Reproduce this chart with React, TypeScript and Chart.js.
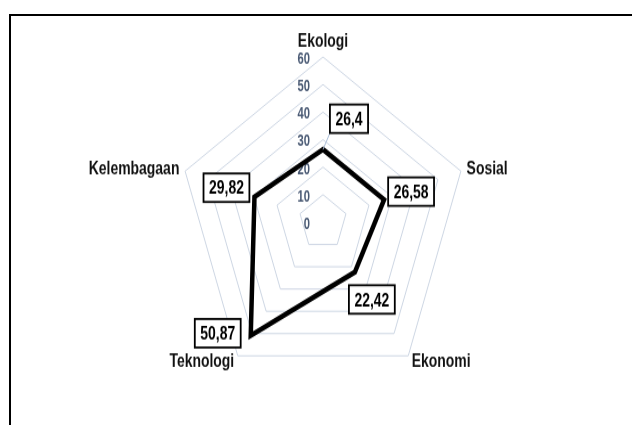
import React, { useEffect, useRef } from "react";
import { Chart, registerables } from "chart.js";

Chart.register(...registerables);

const categories = ["Ekologi", "Sosial", "Ekonomi", "Teknologi", "Kelembagaan"];
const values = [26.4, 26.58, 22.42, 50.87, 29.82];
const tickValues = [0, 10, 20, 30, 40, 50, 60];
const tickLabels = ["0", "10", "20", "30", "40", "50", "60"];

// styling: data label box offsets (px, unstretched) and leader-line flags
const labelOffsets = [
  [26, -27],
  [27, -7],
  [17, 24],
  [-33, -2],
  [-28, -8],
];
const leaderLines = [true, false, false, false, false];

const STRETCH = 425 / 373;
const FONT = "'Liberation Sans', Arial, sans-serif";
const NARROW_X = 0.82;

function narrowText(ctx: any, text: string, x: number, y: number, align: string, sx: number) {
  ctx.save();
  ctx.translate(x, y);
  ctx.scale(sx, 1);
  ctx.textAlign = align;
  ctx.fillText(text, 0, 0);
  ctx.restore();
}

const customPlugin = {
  id: "customLabels",
  beforeDatasetsDraw(chart: any) {
    const scale = chart.scales.r;
    const ctx = chart.ctx;
    ctx.save();
    // tick labels
    ctx.font = `bold 14px ${FONT}`;
    ctx.fillStyle = "#4a5a74";
    ctx.textBaseline = "middle";
    tickValues.forEach((v, i) => {
      const y = scale.yCenter - scale.getDistanceFromCenterForValue(v) + 2;
      narrowText(ctx, tickLabels[i], scale.xCenter - 13, y, "right", 0.8);
    });
    // category labels
    ctx.font = `bold 17px ${FONT}`;
    ctx.fillStyle = "#111111";
    categories.forEach((c, i) => {
      const p = scale.getPointPosition(i, scale.drawingArea + 6);
      const ang = Math.round((i * 360) / categories.length);
      let y = p.y;
      let align = "center";
      if (ang === 0 || ang === 360) {
        y -= 8;
      } else if (ang === 180) {
        y += 8;
      } else if (ang < 180) {
        align = "left";
      } else {
        align = "right";
      }
      narrowText(ctx, c, p.x, y, align, NARROW_X);
    });
    ctx.restore();
  },
  afterDatasetsDraw(chart: any) {
    const scale = chart.scales.r;
    const ctx = chart.ctx;
    ctx.save();
    ctx.font = `bold 17px ${FONT}`;
    ctx.textBaseline = "middle";
    values.forEach((v, i) => {
      const p = scale.getPointPositionForValue(i, v);
      const text = String(v).replace(".", ",");
      const w = ctx.measureText(text).width * NARROW_X + 11;
      const h = 25;
      const cx = p.x + labelOffsets[i][0];
      const cy = p.y + labelOffsets[i][1];
      const left = cx - w / 2;
      const top = cy - h / 2;
      if (leaderLines[i]) {
        const nx = Math.max(left, Math.min(p.x, left + w));
        const ny = Math.max(top, Math.min(p.y, top + h));
        ctx.beginPath();
        ctx.strokeStyle = "#a9bcd6";
        ctx.lineWidth = 1;
        ctx.moveTo(p.x, p.y);
        ctx.lineTo(nx, ny);
        ctx.stroke();
      }
      ctx.fillStyle = "#ffffff";
      ctx.fillRect(left, top, w, h);
      ctx.strokeStyle = "#000000";
      ctx.lineWidth = 1.8;
      ctx.strokeRect(left, top, w, h);
      ctx.fillStyle = "#000000";
      narrowText(ctx, text, cx, cy + 1, "center", NARROW_X);
    });
    ctx.restore();
  },
};

export default function App() {
  const canvasRef = useRef<HTMLCanvasElement | null>(null);

  useEffect(() => {
    if (!canvasRef.current) return;
    const chart = new Chart(canvasRef.current, {
      type: "radar",
      data: {
        labels: categories,
        datasets: [
          {
            data: values,
            borderColor: "#000000",
            borderWidth: 4.5,
            backgroundColor: "rgba(0,0,0,0)",
            fill: false,
            pointRadius: 0,
            pointHoverRadius: 0,
            borderJoinStyle: "miter",
          },
        ],
      },
      options: {
        animation: false,
        responsive: true,
        maintainAspectRatio: false,
        layout: { padding: { left: 14, right: 0, top: 50, bottom: 33 } },
        plugins: {
          legend: { display: false },
          tooltip: { enabled: false },
        },
        scales: {
          r: {
            min: 0,
            max: 60,
            ticks: { stepSize: 10, display: false },
            grid: { color: "#cdd6e3", lineWidth: 1 },
            angleLines: { display: false },
            pointLabels: { display: false },
          },
        },
      },
      plugins: [customPlugin],
    });
    return () => chart.destroy();
  }, []);

  return (
    <>
      <div
        style={{
          position: "fixed",
          left: 0,
          top: 0,
          width: 632,
          height: 373,
          transform: `scaleY(${STRETCH})`,
          transformOrigin: "0 0",
        }}
      >
        <canvas ref={canvasRef} />
      </div>
      <div
        style={{
          position: "fixed",
          left: 9,
          top: 14,
          right: 0,
          bottom: 0,
          borderTop: "2px solid #000",
          borderLeft: "2px solid #000",
          pointerEvents: "none",
        }}
      />
    </>
  );
}
